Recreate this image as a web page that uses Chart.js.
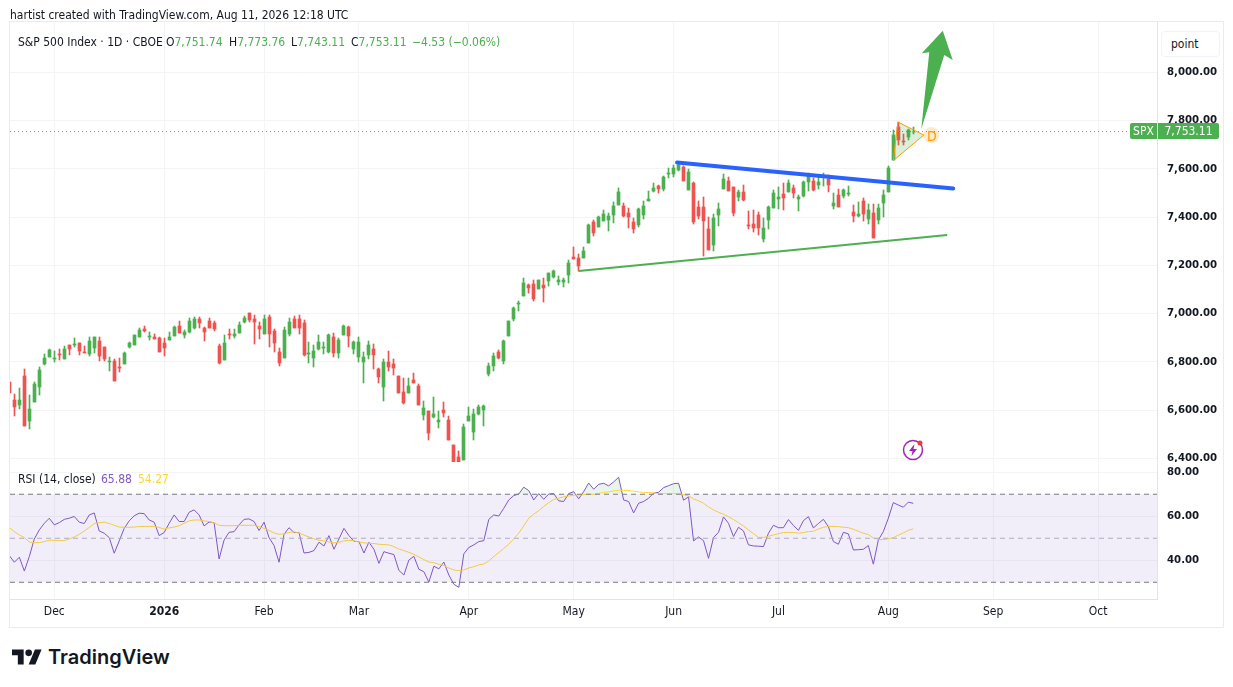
<!DOCTYPE html>
<html>
<head>
<meta charset="utf-8">
<title>S&amp;P 500 Index</title>
<script src="https://cdn.jsdelivr.net/npm/chart.js@4"></script>
<style>
  html, body { margin: 0; padding: 0; background: #fff; }
  body { width: 1233px; height: 687px; position: relative; overflow: hidden; font-family: 'DejaVu Sans Condensed', 'DejaVu Sans', sans-serif; font-size: 12px; color: #131722; }
  canvas { position: absolute; left: 0; }
  #priceChart { top: 0; }
  #rsiChart { top: 462px; }
  .frame { position: absolute; left: 9px; top: 21px; width: 1213px; height: 605px; border: 1px solid #e9ebf0; }
  .txt { position: absolute; white-space: nowrap; line-height: 14px; }
  .up { color: #4caf50; }
  #logoText { position: absolute; left: 48px; top: 645px; font: 600 20px Inter, sans-serif; color: #131722; line-height: 25px; }
  #logo { position: absolute; left: 12px; top: 648px; }
  #bolt { position: absolute; left: 902px; top: 439px; }
  .tag { position: absolute; top: 123px; height: 16px; line-height: 16px; background: #4caf50; color: #fff; text-align: center; }
  #unit { position: absolute; left: 1161px; top: 31px; width: 57px; height: 24px; line-height: 24px; border: 1px solid #f0f3fa; border-radius: 4px; text-indent: 9px; background: #fff; }
</style>
</head>
<body>
<div class="frame"></div>
<canvas id="priceChart" width="1233" height="462"></canvas>
<canvas id="rsiChart" width="1233" height="165"></canvas>

<div class="txt" style="left:10px;top:8px">hartist created with TradingView.com, Aug 11, 2026 12:18 UTC</div>
<div class="txt" style="left:18px;top:35px">S&amp;P 500 Index · 1D · CBOE</div>
<div class="txt" style="left:166px;top:35px">O<span class="up">7,751.74</span></div>
<div class="txt" style="left:229px;top:35px">H<span class="up">7,773.76</span></div>
<div class="txt" style="left:291px;top:35px">L<span class="up">7,743.11</span></div>
<div class="txt" style="left:351px;top:35px">C<span class="up">7,753.11</span></div>
<div class="txt up" style="left:412px;top:35px">−4.53 (−0.06%)</div>
<div class="txt" style="left:18px;top:472px">RSI (14, close)</div>
<div class="txt" style="left:101px;top:472px;color:#7e57c2">65.88</div>
<div class="txt" style="left:138px;top:472px;color:#fdd835">54.27</div>

<div id="unit">point</div>
<div class="tag" style="left:1130px;width:27px;border-radius:2px 0 0 2px">SPX</div>
<div class="tag" style="left:1158px;width:61px;border-radius:0 2px 2px 0">7,753.11</div>
<div class="txt" style="left:927px;top:129px;color:#ff9800;font-size:14px">D</div>

<svg id="bolt" width="24" height="24" viewBox="0 0 24 24">
  <circle cx="11" cy="11" r="9.5" fill="#fff" stroke="#9c27b0" stroke-width="1.5"/>
  <path d="M12.5 5 L7 12 H10.5 L9.5 17 L15 10 H11.5 Z" fill="#9c27b0"/>
  <circle cx="18" cy="4" r="2.5" fill="#f23645"/>
</svg>
<svg id="logo" width="30" height="18" viewBox="0 4 36 18">
  <path d="M14 22H7V11H0V4h14v18zM28 22h-8l7.5-18h8L28 22z" fill="#131722"/>
  <circle cx="20" cy="8" r="4" fill="#131722"/>
</svg>
<div id="logoText">TradingView</div>

<script>
// daily candles
const opens = [
  6718,6642,6621,6741,6555,6633,6696,6791,6820,6812,
  6832,6812,6870,6870,6878,6841,6832,6857,6886,6861,
  6799,6803,6779,6791,6861,6870,6903,6936,6903,6903,
  6899,6878,6890,6907,6948,6911,6924,6940,6977,6940,
  6969,6961,6866,6808,6915,6907,6919,6965,7002,6977,
  6948,6915,6986,6928,6841,6816,6915,6977,6977,6961,
  6832,6816,6853,6857,6841,6903,6837,6911,6944,6853,
  6820,6799,6828,6853,6770,6696,6799,6791,6741,6675,
  6671,6725,6700,6579,6596,6571,6550,6600,6559,6455,
  6405,6393,6555,6509,6584,6600,6749,6783,6841,6803,
  6907,6977,7040,7073,7118,7122,7102,7118,7135,7151,
  7131,7131,7160,7234,7230,7230,7292,7379,7359,7384,
  7388,7408,7450,7446,7417,7379,7367,7408,7466,7508,
  7529,7516,7578,7578,7595,7607,7512,7541,7442,7442,
  7350,7284,7408,7516,7549,7524,7483,7504,7367,7371,
  7408,7309,7388,7437,7475,7495,7504,7520,7475,7487,
  7545,7549,7533,7566,7558,7446,7491,7487,7495,7421,
  7404,7466,7392,7417,7388,7458,7504,7636,7773,7715,
  7732,7751.74
];
const highs = [
  6718,6667,6691,6770,6662,6716,6780,6832,6853,6845,
  6853,6866,6870,6899,6878,6866,6903,6903,6903,6861,
  6820,6812,6816,6841,6882,6911,6940,6948,6924,6915,
  6903,6899,6924,6948,6969,6932,6982,6986,6986,6944,
  6982,6969,6874,6911,6936,6936,6965,6990,7002,6994,
  6965,6994,6994,6936,6857,6944,6982,6990,6994,6973,
  6882,6870,6911,6882,6915,6919,6899,6953,6948,6886,
  6903,6841,6886,6874,6774,6812,6845,6812,6741,6733,
  6733,6754,6708,6637,6596,6654,6596,6633,6575,6455,
  6430,6542,6613,6604,6621,6621,6795,6836,6849,6890,
  6969,7027,7052,7147,7122,7139,7139,7147,7168,7180,
  7156,7147,7222,7276,7247,7276,7371,7388,7404,7429,
  7417,7462,7520,7458,7437,7396,7437,7466,7508,7541,
  7533,7570,7603,7616,7628,7612,7599,7545,7466,7483,
  7400,7413,7458,7578,7566,7524,7512,7533,7425,7429,
  7421,7396,7446,7512,7524,7541,7553,7533,7491,7549,
  7583,7562,7570,7583,7574,7500,7516,7516,7529,7450,
  7462,7479,7454,7454,7454,7512,7612,7761,7794,7744,
  7765,7773.76
];
const lows = [
  6672,6575,6604,6534,6522,6633,6662,6787,6820,6799,
  6808,6812,6828,6861,6828,6837,6824,6837,6803,6803,
  6762,6720,6758,6791,6857,6870,6903,6924,6890,6895,
  6841,6824,6890,6907,6919,6899,6919,6936,6940,6886,
  6940,6928,6791,6808,6895,6899,6919,6961,6965,6874,
  6895,6915,6861,6841,6783,6816,6907,6940,6915,6824,
  6795,6779,6849,6832,6837,6820,6816,6911,6861,6832,
  6799,6712,6812,6770,6712,6637,6762,6745,6671,6625,
  6671,6712,6621,6559,6476,6567,6526,6571,6476,6365,
  6370,6393,6555,6476,6579,6534,6741,6762,6812,6791,
  6907,6969,7011,7073,7085,7052,7102,7048,7114,7147,
  7118,7110,7127,7226,7176,7230,7292,7321,7359,7384,
  7342,7375,7450,7400,7355,7334,7359,7392,7466,7504,
  7500,7508,7562,7566,7591,7549,7512,7371,7392,7238,
  7263,7259,7363,7516,7508,7404,7466,7466,7350,7338,
  7326,7296,7350,7437,7433,7429,7504,7479,7425,7483,
  7508,7508,7516,7529,7504,7433,7442,7479,7487,7380,
  7400,7384,7371,7313,7371,7400,7504,7636,7699,7699,
  7719,7743.11
];
const closes = [
  6672,6613,6642,6534,6604,6708,6766,6816,6849,6816,
  6828,6853,6853,6874,6845,6837,6886,6903,6824,6812,
  6803,6720,6774,6837,6878,6911,6932,6928,6907,6895,
  6841,6857,6903,6944,6919,6924,6969,6977,6961,6924,
  6940,6936,6795,6878,6911,6915,6953,6982,6973,6965,
  6936,6977,6915,6878,6795,6932,6965,6940,6940,6828,
  6837,6845,6882,6861,6911,6837,6890,6948,6907,6882,
  6882,6820,6870,6828,6737,6799,6779,6774,6671,6629,
  6700,6712,6621,6608,6505,6584,6559,6588,6476,6370,
  6376,6530,6575,6584,6613,6617,6783,6824,6816,6886,
  6969,7023,7044,7127,7106,7060,7139,7106,7168,7176,
  7139,7139,7209,7226,7197,7259,7367,7334,7400,7413,
  7404,7446,7504,7404,7400,7350,7433,7446,7475,7520,
  7516,7566,7583,7603,7616,7549,7587,7380,7404,7384,
  7263,7396,7433,7558,7508,7417,7504,7471,7363,7355,
  7355,7355,7442,7500,7483,7479,7541,7500,7483,7545,
  7578,7512,7545,7570,7533,7458,7442,7512,7500,7404,
  7413,7413,7429,7313,7437,7491,7603,7740,7719,7711,
  7761,7753.11
];
const lastClose = 7753.11;

const rsi = [
  42.1,39.1,41.4,35.1,41.7,49.7,53.8,56.8,59.1,56.1,
  57.1,58.6,59.1,59.9,57.3,56.7,60.6,61.5,53.3,52.3,
  50.3,43.2,48.8,54.5,57.9,60.2,61.4,61.2,58.3,57.3,
  51.2,52.6,56.8,60.6,57.6,57.6,61.8,62.9,60.6,55.6,
  57.4,57,40.6,49.2,52.7,53,56.1,58.6,58.8,57.6,
  53.5,57.3,50.3,46.7,39.1,51.8,54.8,52.6,52.6,43.3,
  43.6,44.4,48.2,46.5,51.2,45,49.7,54.5,51.2,48.6,
  48.5,43.3,48.2,45,38.6,43.9,43.2,42.6,35.4,33.3,
  40.1,41.8,35.9,34.8,30.1,37.3,36.1,39.2,33.3,29.1,
  27.7,42.9,45.8,47,48.5,48.9,58.6,60.6,60.1,63.6,
  67.4,69.4,70.1,73.2,71.7,67.4,70.3,67.7,70.1,70.3,
  67,66.7,70.3,71.2,67.9,71.2,75.1,72.3,74.5,75,
  73.8,75.6,77.7,67.4,66.7,61.5,65.9,66.7,68.2,70.5,
  70.9,73,73.9,74.8,75,67.3,68.8,48.8,50.6,48.9,
  40.9,50.3,52.7,59.7,56.8,50.8,55,53.3,47,46.5,
  46.4,46.2,52.3,55.9,54.8,54.8,58.5,55.8,53.6,58,
  59.8,54.7,56.7,58.6,55.3,48.5,47.3,52.7,52,44.7,
  44.8,45,46.7,38.2,49.2,53,59.1,66.2,65.1,64.1,
  66.4,65.88
];
const rsiMa = [
  54.9,53,51.5,50.3,48.3,48,48,48.5,49.1,49.1,
  48.9,48.9,49.7,50.6,51.8,53.3,54.9,56.7,57.1,57.3,
  56.7,55.9,55.1,55,55,55.1,55.3,55.4,55.4,55.4,
  54.9,54.2,54.7,55.1,55.7,56.8,57.9,58.3,58.3,57.9,
  57.6,57,55.9,55.7,55.7,55.7,55.9,55.9,55.9,55.9,
  55.3,54.5,53.6,52.4,51.8,52,52.7,52.9,52.4,51.4,
  50.6,49.7,49.1,48.8,48.3,47.9,48.2,48.8,49.1,48.8,
  48.3,47.9,47.7,47.6,47.3,47.1,47,46.2,45.1,44.4,
  43.6,42.7,41.5,40.3,39.2,38.9,38.2,37.6,36.5,35.6,
  35.3,35.6,36.5,37.1,37.9,38.3,39.7,41.7,43.5,45.4,
  47.3,49.7,52.3,55.6,59.1,60.9,62.6,64.4,66.2,67.6,
  68.2,68.8,69.2,69.5,69.7,69.8,70,70,70.4,70.8,
  71.1,71.5,71.8,71.8,71.7,71.4,71.1,70.8,70.8,70.6,
  70.3,70.3,70.3,70.3,70.3,69.8,69.2,67.9,67,65.9,
  64.2,62.9,61.8,60.9,59.8,58.5,57.1,55.6,53.8,52.1,
  50.4,50.4,50.9,51.5,52.1,52.6,52.7,52.6,52.3,52.6,
  53,53.2,54.2,55,55.4,55.4,55.3,55,54.8,54.1,
  53.2,52.3,51.7,50.1,49.5,49.4,49.8,50.3,51.4,52.4,
  53.6,54.27
];

// axis stuff
const priceTicks = [8000,7800,7600,7400,7200,7000,6800,6600,6400];
const rsiTicks = [80,60,40];
const rsiLevels = [70,50,30];
const monthBars = [9,31,51,70,92,113,133,154,176,197,218];
const monthLabels = ['Dec','2026','Feb','Mar','Apr','May','Jun','Jul','Aug','Sep','Oct'];

// drawings, as [bar, price] anchors
const blueLine = [[133.7,7626],[189,7518]];
const greenLine = [[114,7176],[187.8,7326]];
const triangle = [[177.9,7794],[183.1,7740],[177,7634],[177.9,7794]];
const arrow = [[186.9,8172],[188.9,8051],[187.2,8072],[182.6,7765],[184.2,8083],[182.7,8079],[186.9,8172]];
const dPoint = [[184.6,7740]];

const GREEN = '#4caf50';
const RED = '#ef5350';
const GRID = '#f3f4f6';
const FONT = "'DejaVu Sans Condensed', 'DejaVu Sans', sans-serif";
const barRange = [0.13, 229.8];

const toXY = pts => pts.map(p => ({ x: p[0], y: p[1] }));
const candleColor = ctx => {
  const i = ctx.dataIndex;
  return closes[i] >= opens[i] ? GREEN : RED;
};

// keep wicks, bodies and the dotted price line on whole pixels so they stay crisp
const snapMarks = {
  id: 'snapMarks',
  afterDatasetsUpdate(chart) {
    chart.data.datasets.forEach((ds, n) => {
      const els = chart.getDatasetMeta(n).data;
      if (ds.type === 'bar') {
        els.forEach(el => {
          el.x = Math.floor(el.x) + 0.5;
          el.y = Math.round(el.y);
          el.base = Math.round(el.base);
        });
      } else if (ds.snapY) {
        els.forEach(el => { el.y = Math.floor(el.y) + 0.5; });
      }
    });
  }
};

const xScale = (showLabels, height) => ({
  type: 'linear',
  min: barRange[0],
  max: barRange[1],
  offset: false,
  afterBuildTicks: s => { s.ticks = monthBars.map(v => ({ value: v })); },
  afterFit: s => { s.height = height; s.paddingLeft = 0; s.paddingRight = 0; },
  grid: { color: GRID, offset: false, drawTicks: false },
  border: { display: showLabels, color: '#e0e3eb' },
  ticks: {
    display: showLabels,
    autoSkip: false,
    maxRotation: 0,
    padding: 6,
    color: '#131722',
    font: ctx => ({ family: FONT, size: 12, weight: monthLabels[ctx.index] === '2026' ? 'bold' : 'normal' }),
    callback: (v, i) => monthLabels[i]
  }
});

const yScale = (min, max, ticks) => ({
  position: 'right',
  min: min,
  max: max,
  afterBuildTicks: s => { s.ticks = ticks.map(v => ({ value: v })); },
  afterFit: s => { s.width = 76; s.paddingTop = 0; s.paddingBottom = 0; },
  grid: { color: GRID, drawTicks: false },
  border: { display: true, color: '#e0e3eb' },
  ticks: {
    padding: 10,
    color: '#131722',
    font: { family: FONT, size: 11.3, weight: 'bold' },
    callback: v => v.toLocaleString('en-US', { minimumFractionDigits: 2, maximumFractionDigits: 2 })
  }
});

const shared = {
  responsive: false,
  animation: false,
  devicePixelRatio: 1,
  plugins: { legend: { display: false }, tooltip: { enabled: false } },
  elements: { point: { radius: 0 }, line: { tension: 0 } }
};

new Chart(document.getElementById('priceChart'), {
  type: 'bar',
  plugins: [snapMarks],
  data: {
    datasets: [
      {
        type: 'bar', grouped: false, barThickness: 1, order: 6,
        data: opens.map((o, i) => ({ x: i, y: [lows[i], highs[i]] })),
        backgroundColor: candleColor
      },
      {
        type: 'bar', grouped: false, barThickness: 3, order: 5,
        data: opens.map((o, i) => ({ x: i, y: [o, closes[i]] })),
        backgroundColor: candleColor
      },
      {
        type: 'line', order: 4, borderColor: GREEN, borderWidth: 1, borderDash: [1, 3], snapY: true,
        data: barRange.map(x => ({ x: x, y: lastClose }))
      },
      {
        type: 'line', order: 3, borderColor: '#ff9800', borderWidth: 1, fill: 'shape',
        backgroundColor: 'rgba(76,175,80,0.2)', data: toXY(triangle)
      },
      { type: 'line', order: 2, borderColor: GREEN, borderWidth: 2, data: toXY(greenLine) },
      { type: 'line', order: 1, borderColor: '#2962ff', borderWidth: 4, borderCapStyle: 'round', data: toXY(blueLine) },
      {
        type: 'line', order: 0, borderColor: GREEN, borderWidth: 0, fill: 'shape',
        backgroundColor: GREEN, data: toXY(arrow)
      },
      {
        type: 'line', order: 0, showLine: false, pointRadius: 8,
        pointBackgroundColor: 'rgba(255,152,0,0.2)', pointBorderWidth: 0, data: toXY(dPoint)
      }
    ]
  },
  options: Object.assign({}, shared, {
    layout: { autoPadding: false, padding: { left: 10, top: 22 } },
    scales: {
      x: xScale(false, 0),
      y: yScale(6384.7, 8208.5, priceTicks)
    }
  })
});

new Chart(document.getElementById('rsiChart'), {
  type: 'line',
  data: {
    datasets: [
      {
        borderColor: '#787b86', borderWidth: 1, borderDash: [5, 4], fill: { target: 2 },
        backgroundColor: 'rgba(126,87,194,0.1)',
        data: barRange.map(x => ({ x: x, y: rsiLevels[0] }))
      },
      {
        borderColor: '#b2b5be', borderWidth: 1, borderDash: [5, 4],
        data: barRange.map(x => ({ x: x, y: rsiLevels[1] }))
      },
      {
        borderColor: '#787b86', borderWidth: 1, borderDash: [5, 4],
        data: barRange.map(x => ({ x: x, y: rsiLevels[2] }))
      },
      {
        borderColor: '#fdd835', borderWidth: 1,
        data: rsiMa.map((v, i) => ({ x: i, y: v }))
      },
      {
        borderColor: '#7e57c2', borderWidth: 1,
        fill: { target: { value: rsiLevels[0] }, above: 'rgba(76,175,80,0.12)', below: 'transparent' },
        data: rsi.map((v, i) => ({ x: i, y: v }))
      }
    ]
  },
  options: Object.assign({}, shared, {
    layout: { autoPadding: false, padding: { left: 10, top: 1 } },
    scales: {
      x: xScale(true, 28),
      y: yScale(22.4, 84.2, rsiTicks)
    }
  })
});
</script>
</body>
</html>
